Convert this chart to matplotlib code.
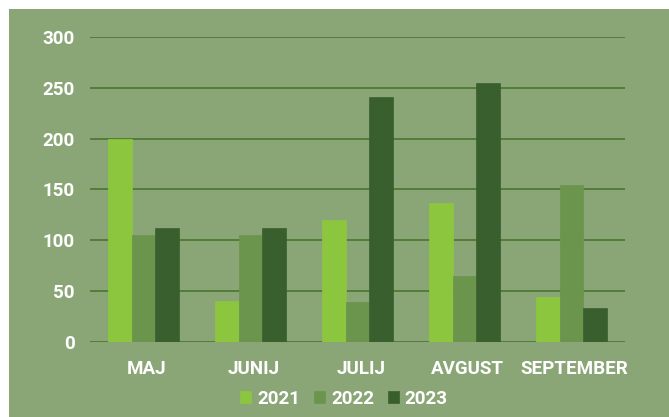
import numpy as np
import matplotlib.pyplot as plt
from matplotlib.patches import Rectangle

months = ['MAJ', 'JUNIJ', 'JULIJ', 'AVGUST', 'SEPTEMBER']
years = ['2021', '2022', '2023']
v2021 = [200, 40, 120, 137, 44]
v2022 = [105, 105, 39, 65, 154]
v2023 = [112, 112, 241, 255, 33]

bg = '#8ba676'
grid_c = '#4e7a34'
colors = ['#8cc63f', '#6b944d', '#3a5f2e']

plt.rcParams['font.family'] = ['Roboto', 'DejaVu Sans']

fig = plt.figure(figsize=(6.69, 4.17), dpi=100, facecolor='white')
# green panel, white strip on the left and top
fig.patches.append(Rectangle((9 / 669, 0), 1, 1 - 9 / 417, transform=fig.transFigure,
                             facecolor=bg, edgecolor='none', zorder=-10))

ax = fig.add_axes([90 / 669, 1 - 342 / 417, 535 / 669, 305 / 417])
ax.set_facecolor('none')

x = np.arange(len(months))
w = 0.22
for i, (vals, c) in enumerate(zip([v2021, v2022, v2023], colors)):
    ax.bar(x + (i - 1) * w, vals, width=w, color=c, label=years[i], zorder=3,
           edgecolor=c, linewidth=0.5)

ax.set_xlim(-0.5, len(months) - 0.5)
ax.set_ylim(0, 300)
ax.set_yticks(range(0, 301, 50))
ax.set_xticks(x + 0.03)
ax.set_xticklabels(months)
ax.grid(axis='y', color=grid_c, linewidth=1.3, zorder=1)
ax.set_axisbelow(True)
for s in ax.spines.values():
    s.set_visible(False)
ax.tick_params(length=0, colors='white', labelsize=13.5)
ax.tick_params(axis='y', pad=11)
ax.tick_params(axis='x', pad=13)
for lab in ax.get_xticklabels() + ax.get_yticklabels():
    lab.set_fontweight('bold')

leg = fig.legend(loc='center', bbox_to_anchor=(344 / 669, 1 - 399 / 417), ncol=3,
                 frameon=False, handlelength=0.6, handleheight=0.6, handletextpad=0.3,
                 columnspacing=0.75, prop={'weight': 'bold', 'size': 13.5})
for t in leg.get_texts():
    t.set_color('white')

fig.savefig('out.png', dpi=100, facecolor='white')
